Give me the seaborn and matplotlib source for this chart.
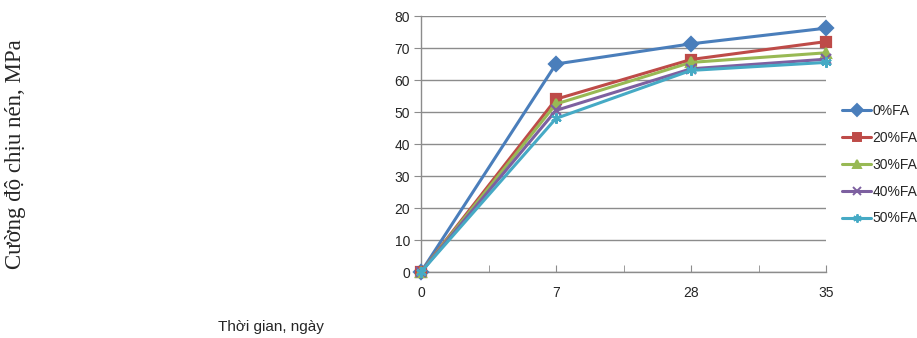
import matplotlib
matplotlib.use('Agg')
import matplotlib.pyplot as plt
import seaborn as sns
import pandas as pd

# ── Data ──────────────────────────────────────────────────────────────────
days = ['0', '7', '28', '35']
series = ['0%FA', '20%FA', '30%FA', '40%FA', '50%FA']
fa0 = [0, 65.0, 71.3, 76.2]
fa20 = [0, 54.0, 66.4, 72.0]
fa30 = [0, 52.5, 65.5, 68.5]
fa40 = [0, 50.5, 63.5, 66.5]
fa50 = [0, 48.0, 63.0, 65.5]

colors = ['#4A7EBB', '#BE4B48', '#98B954', '#7D60A0', '#46AAC5']
markers = ['D', 's', '^', 'x', (6, 2, 0)]

rows = []
for name, vals in zip(series, [fa0, fa20, fa30, fa40, fa50]):
    for i, v in enumerate(vals):
        rows.append({'pos': i, 'day': days[i], 'series': name, 'value': v})
df = pd.DataFrame(rows)

sns.set_style('white')
plt.rcParams['font.family'] = ['Liberation Sans', 'DejaVu Sans']

fig = plt.figure(figsize=(9.17, 3.38), dpi=100)
ax = fig.add_axes([421 / 917, 1 - 272 / 338, 405 / 917, 256 / 338])

# one call per series: seaborn refuses to mix filled and line-art markers
for name, c, m in zip(series, colors, markers):
    sns.lineplot(data=df[df['series'] == name], x='pos', y='value',
                 color=c, marker=m, linewidth=2.2, markersize=7.5,
                 markeredgewidth=1.6, markeredgecolor=c,
                 ax=ax, clip_on=False, zorder=3, label=name)
if ax.get_legend():
    ax.get_legend().remove()

ax.set_xlim(0, 3)
ax.set_ylim(0, 80)
ax.set_xticks(range(len(days)))
ax.set_xticklabels(days)
ax.set_xticks([0.5, 1.5, 2.5], minor=True)
ax.set_yticks(range(0, 81, 10))
ax.set_xlabel('')
ax.set_ylabel('')

ax.grid(axis='y', color='#8c8c8c', linewidth=1.0)
ax.grid(axis='x', visible=False)
for s in ['top', 'right']:
    ax.spines[s].set_visible(False)
for s in ['left', 'bottom']:
    ax.spines[s].set_color('#8c8c8c')
    ax.spines[s].set_linewidth(1.0)

ax.tick_params(axis='x', which='both', direction='in', length=5, color='#8c8c8c',
               labelsize=10, pad=10, bottom=True)
ax.tick_params(axis='y', direction='out', length=5, color='#8c8c8c',
               labelsize=10, pad=3, left=True)

# legend outside right, hugging the figure edge
handles = [plt.Line2D([], [], color=c, marker=m, linewidth=2.2, markersize=6,
                      markeredgewidth=1.4, markeredgecolor=c)
           for c, m in zip(colors, markers)]
fig.legend(handles, series, loc='center left', bbox_to_anchor=(842 / 917, 0.513),
           frameon=False, fontsize=10, handlelength=2.1, handletextpad=0.1,
           labelspacing=0.93, borderaxespad=0, borderpad=0)

fig.text(16 / 917, 1 - 154 / 338, 'Cường độ chịu nén, MPa', rotation=90, va='center',
         ha='center', fontsize=16.5, family=['Liberation Serif', 'DejaVu Serif'])
fig.text(218 / 917, 1 - 327 / 338, 'Thời gian, ngày', va='center', ha='left',
         fontsize=11)

fig.savefig('out.png', dpi=100)
